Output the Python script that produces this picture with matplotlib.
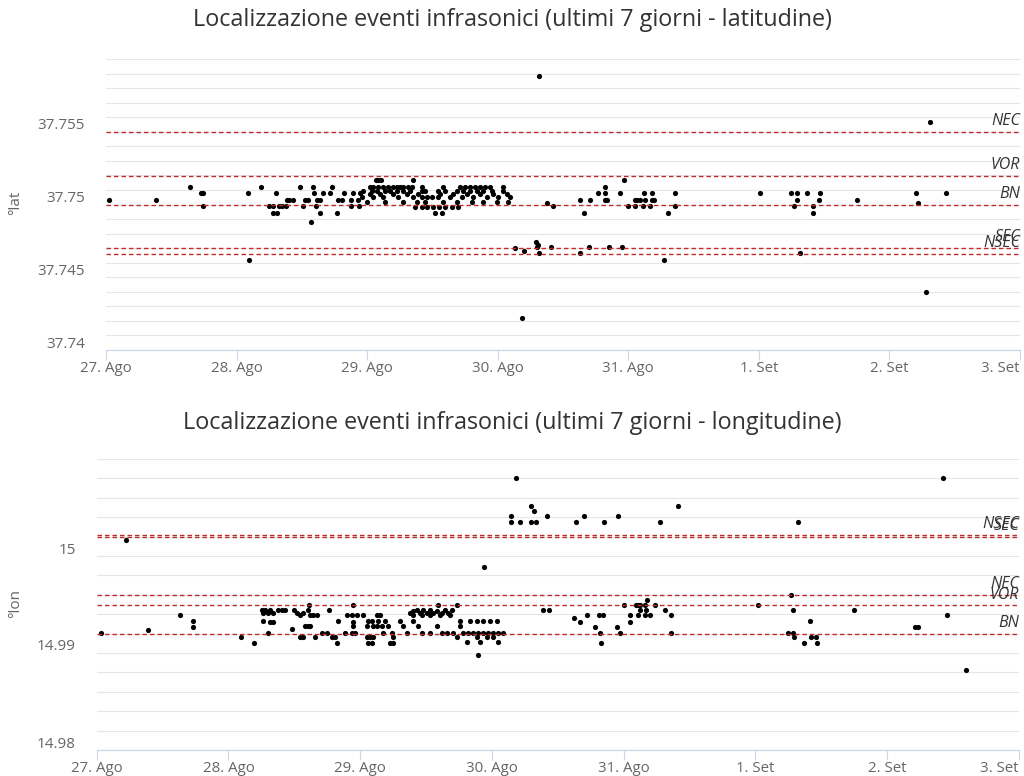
import matplotlib.pyplot as plt
from matplotlib.ticker import MultipleLocator
from matplotlib.transforms import ScaledTranslation

plt.rcParams['font.family'] = ['Open Sans', 'DejaVu Sans']

day_labels = ['27. Ago', '28. Ago', '29. Ago', '30. Ago', '31. Ago', '1. Set', '2. Set', '3. Set']

# latitude chart: event time (days since 27 Ago) and latitude
lat_days = [
    0.02, 0.38, 0.64, 0.73, 0.745, 0.74, 1.085, 1.097, 1.187,
    1.25, 1.276, 1.28, 1.31, 1.30, 1.327, 1.345, 1.377, 1.383, 1.405, 1.429, 1.485,
    1.506, 1.524, 1.55, 1.567, 1.588, 1.59, 1.607, 1.613, 1.639, 1.639, 1.664, 1.715,
    1.73, 1.771, 1.78, 1.805, 1.822, 1.874, 1.88, 1.894, 1.93, 1.937, 1.945,
    2.07, 2.085, 2.103, 2.353,
    2.021, 2.047, 2.085, 2.123, 2.162, 2.200, 2.226, 2.251, 2.277, 2.315, 2.340,
    2.417, 2.583, 2.711, 2.749, 2.787, 2.826, 2.864, 2.902, 2.940, 3.043,
    1.970, 2.034, 2.072, 2.136, 2.174, 2.226, 2.277, 2.328, 2.417, 2.443,
    2.545, 2.596, 2.685, 2.736, 2.787, 2.838, 2.889, 2.953, 3.043,
    2.021, 2.098, 2.200, 2.302, 2.392, 2.558, 2.660, 2.762, 2.864, 2.966, 3.068,
    1.958, 2.047, 2.123, 2.238, 2.353, 2.417, 2.455, 2.494, 2.545, 2.634, 2.724, 2.813, 2.915, 3.004, 3.094,
    1.996, 2.136, 2.277, 2.379, 2.443, 2.583, 2.685, 2.800, 2.889, 2.991, 3.081,
    2.366, 2.417, 2.455, 2.506, 2.552, 2.596, 2.647, 2.698,
    2.519, 2.570,
    3.135, 3.2, 3.183, 3.315, 3.29, 3.30, 3.31, 3.32, 3.41, 3.374, 3.425,
    3.63, 3.66, 3.63, 3.70, 3.71, 3.77, 3.823, 3.823, 3.823, 3.836, 3.85, 3.94, 3.955, 3.966,
    4.0, 4.05, 4.05, 4.07, 4.09, 4.12, 4.11, 4.127, 4.17, 4.18, 4.185, 4.20, 4.27, 4.306, 4.355, 4.355,
    5.008, 5.25, 5.29, 5.29, 5.27, 5.314, 5.365, 5.417, 5.417, 5.46, 5.47, 5.748,
    6.207, 6.22, 6.31, 6.28, 6.437,
]
lat_values = [
    37.7503, 37.7503, 37.7512, 37.7508, 37.7508, 37.7499, 37.7508, 37.7462, 37.7512,
    37.7499, 37.7499, 37.7494, 37.7494, 37.7508, 37.7499, 37.7499, 37.7499, 37.7503, 37.7503, 37.7503, 37.7512,
    37.7499, 37.7503, 37.7503, 37.7488, 37.7512, 37.7508, 37.7499, 37.7503, 37.7503, 37.7494, 37.7508, 37.7508,
    37.7512, 37.7494, 37.7503, 37.7503, 37.7508, 37.7503, 37.7499, 37.7508, 37.7503, 37.7499, 37.7508,
    37.7517, 37.7517, 37.7517, 37.7517,
    37.7512, 37.7512, 37.7512, 37.7512, 37.7512, 37.7512, 37.7512, 37.7512, 37.7512, 37.7512, 37.7512,
    37.7512, 37.7512, 37.7512, 37.7512, 37.7512, 37.7512, 37.7512, 37.7512, 37.7512, 37.7512,
    37.7509, 37.7509, 37.7509, 37.7509, 37.7509, 37.7509, 37.7509, 37.7509, 37.7509, 37.7509,
    37.7509, 37.7509, 37.7509, 37.7509, 37.7509, 37.7509, 37.7509, 37.7509, 37.7509,
    37.7507, 37.7507, 37.7507, 37.7507, 37.7507, 37.7507, 37.7507, 37.7507, 37.7507, 37.7507, 37.7507,
    37.7505, 37.7505, 37.7505, 37.7505, 37.7505, 37.7505, 37.7505, 37.7505, 37.7505, 37.7505, 37.7505, 37.7505, 37.7505, 37.7505, 37.7505,
    37.7502, 37.7502, 37.7502, 37.7502, 37.7502, 37.7502, 37.7502, 37.7502, 37.7502, 37.7502, 37.7502,
    37.7498, 37.7498, 37.7498, 37.7498, 37.7498, 37.7498, 37.7498, 37.7498,
    37.7494, 37.7494,
    37.7470, 37.7468, 37.7422, 37.75885, 37.7474, 37.7471, 37.7472, 37.7467, 37.7471, 37.7501, 37.7499,
    37.7503, 37.7494, 37.7467, 37.7471, 37.7503, 37.7508, 37.7512, 37.7508, 37.7503, 37.7503, 37.7471, 37.7508, 37.7471, 37.7517,
    37.7499, 37.7499, 37.7503, 37.7503, 37.7503, 37.7508, 37.7499, 37.7503, 37.7499, 37.7508, 37.7503, 37.7503, 37.7462, 37.7494, 37.7508, 37.7499,
    37.7508, 37.7508, 37.7508, 37.7503, 37.7499, 37.7467, 37.7508, 37.7499, 37.7494, 37.7503, 37.7508, 37.7503,
    37.7508, 37.7501, 37.7557, 37.7440, 37.7508,
]

# longitude chart
lon_days = [
    0.033, 0.222, 0.387, 0.632, 0.733, 0.733, 1.093, 1.196,
    1.252, 1.277, 1.315, 1.379, 1.404, 1.429,
    1.265, 1.303, 1.341,
    1.260, 1.315, 1.341, 1.834,
    1.303, 1.480,
    1.497, 1.523, 1.543, 1.568, 1.606, 1.619, 1.644, 1.669,
    1.614, 1.543, 1.568, 1.581, 1.606, 1.619, 1.657, 1.707, 1.745, 1.765,
    1.783, 1.809, 1.821, 1.897, 1.935, 1.973, 1.943, 1.884, 1.935, 1.960, 1.943, 1.943,
    2.023, 2.061, 2.087, 2.125, 2.049, 2.099, 2.125, 2.049, 2.074, 2.099, 2.061, 2.087,
    2.592, 2.736,
    2.377, 2.403, 2.428, 2.453, 2.479, 2.504, 2.529, 2.554, 2.580, 2.618, 2.643, 2.668, 2.693,
    2.403, 2.466, 2.529, 2.605, 2.681,
    2.150, 2.188, 2.213, 2.238, 2.251, 2.226, 2.251, 2.137, 2.162, 2.175,
    2.301, 2.327, 2.352, 2.403, 2.441, 2.466,
    2.529, 2.580, 2.618, 2.655, 2.706, 2.757, 2.782, 2.820, 2.858, 2.896, 2.934, 2.972, 3.010, 3.048, 3.085,
    2.757, 2.833, 2.883, 2.934, 2.984, 3.035,
    2.731, 2.807, 2.883, 2.908, 2.959, 3.010, 3.048,
    2.896, 2.94,
    3.181, 3.141, 3.141, 3.212, 3.293, 3.320, 3.300, 3.333, 3.414,
    3.384, 3.434,
    3.634, 3.697, 3.849, 3.958, 4.274, 4.413, 5.326,
    3.621, 3.667, 3.718, 3.78, 3.81, 3.84, 3.82, 3.83, 3.946, 3.97,
    4.0, 4.046, 4.046, 4.09, 4.107, 4.12, 4.107, 4.12, 4.16, 4.17, 4.18, 4.16, 4.196, 4.236,
    4.317, 4.355, 4.355,
    5.02, 5.273, 5.285, 5.247, 5.285, 5.296, 5.367, 5.417, 5.425, 5.463, 5.467, 5.748, 6.21,
    6.234, 6.423, 6.45, 6.596,
]
lon_values = [
    14.9921, 15.0017, 14.9924, 14.9939, 14.9933, 14.9927, 14.9916, 14.9910,
    14.9944, 14.9944, 14.9944, 14.9944, 14.9944, 14.9944,
    14.9941, 14.9941, 14.9941,
    14.9933, 14.9932, 14.9932, 14.9933,
    14.9921, 14.9925,
    14.9944, 14.9941, 14.9939, 14.9941, 14.9944, 14.9939, 14.9939, 14.9939,
    14.9949, 14.9916, 14.9916, 14.9928, 14.9928, 14.9928, 14.9916, 14.9921, 14.9921, 14.9944,
    14.9916, 14.9916, 14.9910, 14.9939, 14.9939, 14.9939, 14.9949, 14.9921, 14.9921, 14.9921, 14.9932, 14.9928,
    14.9939, 14.9933, 14.9933, 14.9939, 14.9928, 14.9928, 14.9928, 14.9916, 14.9916, 14.9916, 14.9910, 14.9910,
    14.9950, 14.9950,
    14.9941, 14.9943, 14.9944, 14.9941, 14.9944, 14.9941, 14.9944, 14.9941, 14.9943, 14.9941, 14.9944, 14.9941, 14.9944,
    14.9939, 14.9939, 14.9939, 14.9939, 14.9939,
    14.9939, 14.9933, 14.9928, 14.9921, 14.9916, 14.9910, 14.9910, 14.9933, 14.9928, 14.9921,
    14.9933, 14.9928, 14.9921, 14.9933, 14.9928, 14.9921,
    14.9921, 14.9928, 14.9921, 14.9921, 14.9921, 14.9928, 14.9921, 14.9921, 14.9921, 14.9921, 14.9921, 14.9921, 14.9921, 14.9921, 14.9921,
    14.9933, 14.9933, 14.9933, 14.9933, 14.9933, 14.9933,
    14.9917, 14.9911, 14.9917, 14.9911, 14.9917, 14.9917, 14.9911,
    14.9898, 14.9989,
    15.0080, 15.0041, 15.0035, 15.0035, 15.0052, 15.0046, 15.0035, 15.0035, 15.0041,
    14.9944, 14.9944,
    15.0035, 15.0041, 15.0035, 15.0041, 15.0035, 15.0052, 15.0035,
    14.9936, 14.9932, 14.9939, 14.9927, 14.9939, 14.9939, 14.9921, 14.9910, 14.9927, 14.9921,
    14.9949, 14.9939, 14.9932, 14.9949, 14.9949, 14.9949, 14.9939, 14.9944, 14.9949, 14.9944, 14.9955, 14.9939, 14.9939, 14.9949,
    14.9944, 14.9939, 14.9921,
    14.9949, 14.9960, 14.9944, 14.9921, 14.9921, 14.9916, 14.9910, 14.9933, 14.9916, 14.9916, 14.9910, 14.9944, 14.9927,
    14.9927, 15.0080, 14.9939, 14.9882,
]

# reference stations (plot lines)
lat_station_names = ['NEC', 'VOR', 'BN', 'SEC', 'NSEC']
lat_station_values = [37.7550, 37.75195, 37.74995, 37.7470, 37.7466]
lon_station_names = ['NSEC', 'SEC', 'NEC', 'VOR', 'BN']
lon_station_values = [15.0022, 15.0020, 14.9960, 14.9949, 14.9920]

lat_ticks = [37.74, 37.745, 37.75, 37.755]
lat_tick_labels = ['37.74', '37.745', '37.75', '37.755']
lon_ticks = [14.98, 14.99, 15.0]
lon_tick_labels = ['14.98', '14.99', '15']

W, H = 1024, 776


def make_panel(fig, rect, days, values, ylim, grid_step, ticks, tick_labels,
               st_names, st_values, title, title_y, ylabel, ylabel_y):
    left, top, right, bottom = rect
    ax = fig.add_axes([left / W, 1 - bottom / H, (right - left) / W, (bottom - top) / H])
    ax.set_xlim(0, 7)
    ax.set_ylim(*ylim)

    ax.yaxis.set_minor_locator(MultipleLocator(grid_step))
    ax.set_yticks(ticks)
    ax.set_yticklabels(tick_labels)
    ax.grid(which='both', axis='y', color='#e6e6e6', lw=0.8, zorder=0)
    ax.set_axisbelow(True)

    ax.set_xticks(range(8))
    ax.set_xticklabels(day_labels)
    ax.get_xticklabels()[-1].set_horizontalalignment('right')
    for s in ['top', 'right', 'left']:
        ax.spines[s].set_visible(False)
    ax.spines['bottom'].set_color('#ccd6eb')
    ax.spines['bottom'].set_linewidth(0.9)
    ax.tick_params(axis='x', length=7.5, width=0.8, color='#ccd6eb', labelcolor='#666666',
                   labelsize=10.8, pad=0.5)
    ax.tick_params(axis='y', which='both', length=0, labelcolor='#666666', labelsize=11, pad=15)
    for lab in ax.get_yticklabels():
        lab.set_transform(lab.get_transform() + ScaledTranslation(0, 0.08, fig.dpi_scale_trans))

    ax.scatter(days, values, s=14, color='black', linewidths=0, zorder=2, clip_on=False)

    for name, v in zip(st_names, st_values):
        ax.axhline(v, color='#bf2a2d', lw=1.0, ls=(0, (3.2, 2.2)), zorder=3)
        ax.annotate(name, xy=(1, v), xycoords=('axes fraction', 'data'), xytext=(0, 7.8),
                    textcoords='offset points', ha='right', va='center', style='italic',
                    fontsize=11.5, color='#333333', zorder=4)

    fig.text(0.5, 1 - title_y / H, title, ha='center', va='center', fontsize=16.8, color='#333333')
    fig.text(16 / W, 1 - ylabel_y / H, ylabel, rotation=90, ha='center', va='center',
             fontsize=11, color='#666666')
    return ax


fig = plt.figure(figsize=(W / 100, H / 100), dpi=100)

make_panel(fig, (106, 59, 1020, 350), lat_days, lat_values, (37.74, 37.76), 0.001,
           lat_ticks, lat_tick_labels, lat_station_names, lat_station_values,
           'Localizzazione eventi infrasonici (ultimi 7 giorni - latitudine)', 20, '°lat', 203)

make_panel(fig, (96.7, 459, 1019, 750), lon_days, lon_values, (14.98, 15.01), 0.002,
           lon_ticks, lon_tick_labels, lon_station_names, lon_station_values,
           'Localizzazione eventi infrasonici (ultimi 7 giorni - longitudine)', 423, '°lon', 604)

fig.savefig('out.png', dpi=100)
